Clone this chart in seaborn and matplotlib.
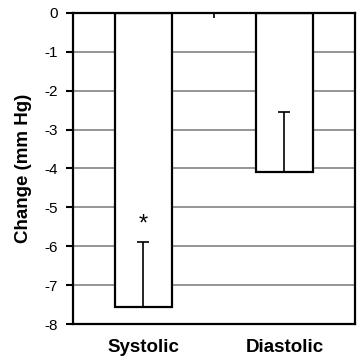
import numpy as np
import pandas as pd
import matplotlib
matplotlib.use("Agg")
import matplotlib.pyplot as plt
import seaborn as sns

# data
categories = ["Systolic", "Diastolic"]
change = [-7.55, -4.1]
err_up = [1.65, 1.55]
star_y = [-5.45, None]
yticks = [0, -1, -2, -3, -4, -5, -6, -7, -8]

sns.set_style("white")
plt.rcParams["font.family"] = ["Liberation Sans", "DejaVu Sans"]
plt.rcParams["text.color"] = "black"
plt.rcParams["axes.labelcolor"] = "black"
plt.rcParams["xtick.color"] = "black"
plt.rcParams["ytick.color"] = "black"

df = pd.DataFrame({"cat": categories, "change": change})

fig = plt.figure(figsize=(3.61, 3.60), dpi=100)
ax = fig.add_axes([0.202, 0.10, 0.781, 0.864])

# grid first so the white bars cover it
for t in yticks[1:-1]:
    ax.axhline(t, color="#8c8c8c", lw=1.3, zorder=0)

sns.barplot(data=df, x="cat", y="change", color="white", edgecolor="black",
            linewidth=1.6, width=0.4, errorbar=None, ax=ax, zorder=2)

xs = np.arange(len(categories))
ax.errorbar(xs, change, yerr=[np.zeros(len(err_up)), err_up], fmt="none",
            ecolor="black", elinewidth=1.2, capsize=4, capthick=1.2, zorder=3)

for x, s in zip(xs, star_y):
    if s is not None:
        ax.text(x, s, "*", ha="center", va="center", fontsize=17, zorder=4)

ax.set_ylim(-8, 0)
ax.set_xlim(-0.5, 1.5)
ax.set_yticks(yticks)
ax.set_yticklabels([str(t) for t in yticks], fontsize=11)
ax.tick_params(axis="y", direction="out", length=5, width=1.5, left=True, pad=6)
ax.tick_params(axis="x", length=0, pad=11)
for lab in ax.get_xticklabels():
    lab.set_fontweight("bold")
    lab.set_fontsize(13.5)
ax.set_xlabel("")
ax.set_ylabel("Change (mm Hg)", fontsize=13.5, fontweight="bold", labelpad=9)

for sp in ax.spines.values():
    sp.set_visible(True)
    sp.set_color("black")
    sp.set_linewidth(1.6)

# the category axis sits at zero, with one tick between the bars
top = ax.secondary_xaxis("top")
top.set_xticks([0.5])
top.set_xticklabels([])
top.tick_params(direction="in", length=3.5, width=1.2, color="black")
top.spines["top"].set_visible(False)

fig.savefig("out.png", dpi=100)
